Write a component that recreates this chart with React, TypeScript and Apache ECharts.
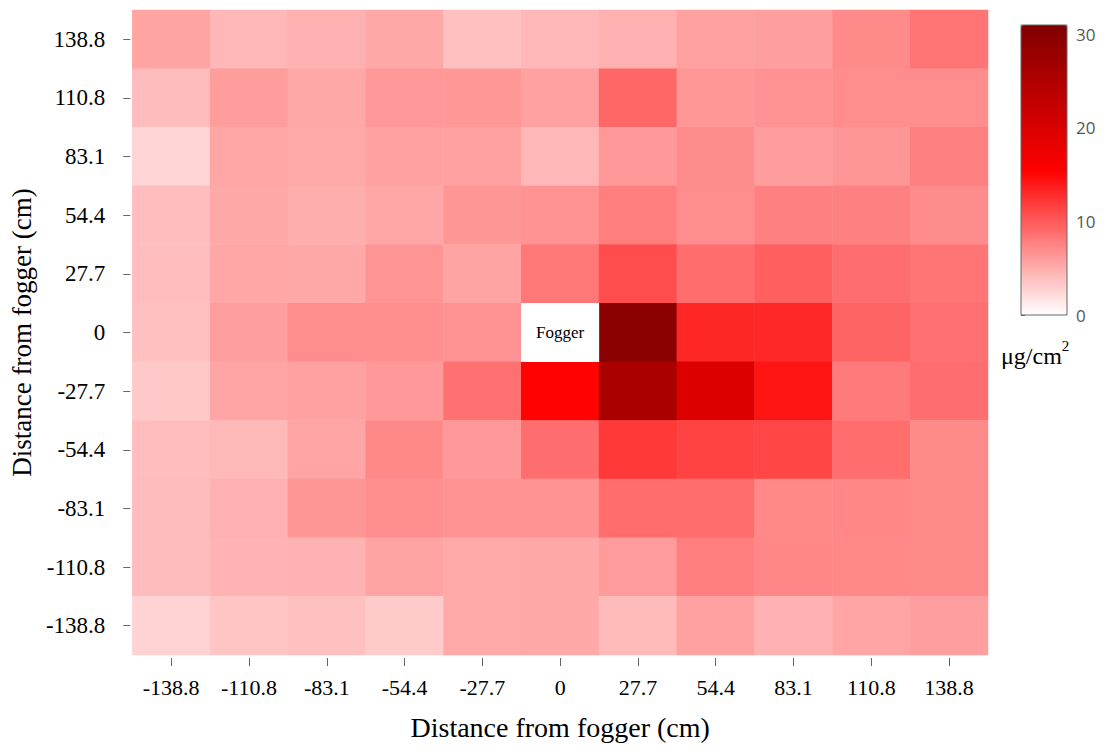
import React, { useEffect, useRef } from "react";
import * as echarts from "echarts";

// Sampling positions (cm) along each axis, left-to-right / bottom-to-top
const xLabels = ["-138.8", "-110.8", "-83.1", "-54.4", "-27.7", "0", "27.7", "54.4", "83.1", "110.8", "138.8"];
const yLabels = ["-138.8", "-110.8", "-83.1", "-54.4", "-27.7", "0", "27.7", "54.4", "83.1", "110.8", "138.8"];

// Deposition (µg/cm²) per row, listed from the top row (y = 138.8) down.
// The fogger itself sits at (0, 0) and has no reading.
const rowY138_8 = [5.6, 4.4, 4.8, 5.3, 3.8, 4.4, 4.8, 5.7, 5.9, 7.1, 8.4];
const rowY110_8 = [4.1, 6.0, 5.3, 6.2, 6.3, 5.7, 9.3, 6.3, 6.6, 6.9, 6.9];
const rowY83_1 = [2.6, 5.4, 5.2, 5.7, 5.7, 4.4, 6.2, 7.0, 6.0, 6.4, 7.7];
const rowY54_4 = [4.0, 5.3, 4.9, 5.4, 6.4, 6.6, 7.8, 6.9, 7.7, 7.7, 7.0];
const rowY27_7 = [4.0, 5.4, 5.3, 6.5, 5.6, 8.2, 10.8, 8.9, 9.7, 8.8, 8.4];
const rowY0 = [3.8, 5.9, 6.9, 6.8, 6.6, null, 29.7, 13.2, 13.1, 9.4, 8.7];
const rowYm27_7 = [3.3, 5.5, 5.7, 6.2, 8.7, 15.3, 25.9, 19.6, 14.3, 8.0, 8.8];
const rowYm54_4 = [4.0, 4.3, 5.5, 7.2, 6.2, 8.8, 12.1, 11.4, 11.3, 8.9, 7.1];
const rowYm83_1 = [4.1, 4.8, 6.4, 6.8, 6.6, 6.6, 8.9, 8.9, 7.2, 7.3, 7.1];
const rowYm110_8 = [4.1, 4.6, 4.7, 5.6, 5.2, 5.3, 6.1, 7.8, 7.3, 7.2, 7.1];
const rowYm138_8 = [2.7, 3.5, 3.8, 3.2, 5.2, 5.3, 4.2, 5.7, 4.7, 5.5, 5.9];

const rowsTopDown = [
  rowY138_8, rowY110_8, rowY83_1, rowY54_4, rowY27_7, rowY0,
  rowYm27_7, rowYm54_4, rowYm83_1, rowYm110_8, rowYm138_8,
];

// Colour bar range and its tick values
const scaleMin = 0;
const scaleMax = 31;
const scaleTicks = [0, 10, 20, 30];

const SERIF = "Liberation Serif, Times New Roman, serif";
const SANS = "Open Sans, Noto Sans, sans-serif";

export default function App() {
  const ref = useRef<HTMLDivElement>(null);

  useEffect(() => {
    if (!ref.current) return;
    const chart = echarts.init(ref.current, undefined, { renderer: "svg" });

    const cells: [number, number, number][] = [];
    rowsTopDown.forEach((row, r) => {
      const yi = yLabels.length - 1 - r;
      row.forEach((v, c) => {
        if (v !== null) cells.push([c, yi, v as number]);
      });
    });

    chart.setOption({
      animation: false,
      backgroundColor: "#ffffff",
      // unit of the colour scale, placed under the colour bar
      title: {
        text: "{b|μg/cm}{s|2}",
        left: 1001,
        top: 338,
        padding: 0,
        textStyle: {
          color: "#000",
          fontFamily: SERIF,
          fontSize: 24,
          fontWeight: "normal",
          rich: {
            b: { color: "#000", fontFamily: SERIF, fontSize: 24, fontWeight: "normal", lineHeight: 30, verticalAlign: "bottom" },
            s: { color: "#000", fontFamily: SERIF, fontSize: 15, fontWeight: "normal", lineHeight: 30, verticalAlign: "top" },
          },
        },
      },
      grid: [
        { left: 130, top: 10, width: 858, height: 645 },
        {
          left: 1021, top: 25, width: 46, height: 290,
          show: true, borderColor: "#666", borderWidth: 1,
          backgroundColor: "transparent", z: 10,
        },
      ],
      xAxis: [
        {
          type: "category",
          gridIndex: 0,
          data: xLabels,
          offset: 3,
          axisLine: { show: false },
          axisTick: { show: true, length: 8, alignWithLabel: true, lineStyle: { color: "#666" } },
          axisLabel: { color: "#000", fontFamily: SERIF, fontSize: 22, margin: 18 },
          splitLine: { show: false },
          name: "Distance from fogger (cm)",
          nameLocation: "middle",
          nameGap: 55,
          nameTextStyle: { color: "#000", fontFamily: SERIF, fontSize: 28 },
        },
        {
          type: "value",
          gridIndex: 1,
          show: false,
        },
      ],
      yAxis: [
        {
          type: "category",
          gridIndex: 0,
          data: yLabels,
          offset: 2,
          axisLine: { show: false },
          axisTick: { show: true, length: 7, alignWithLabel: true, lineStyle: { color: "#666" } },
          axisLabel: { color: "#000", fontFamily: SERIF, fontSize: 23, margin: 25 },
          splitLine: { show: false },
          name: "Distance from fogger (cm)",
          nameLocation: "middle",
          nameGap: 88,
          nameRotate: 90,
          nameTextStyle: { color: "#000", fontFamily: SERIF, fontSize: 27 },
        },
        {
          type: "value",
          gridIndex: 1,
          position: "right",
          min: scaleMin,
          max: scaleMax,
          axisLine: { show: false },
          splitLine: { show: false },
          axisTick: { show: true, length: 4, customValues: scaleTicks, lineStyle: { color: "#666" } },
          axisLabel: { color: "#555", fontFamily: SANS, fontSize: 17, margin: 9, customValues: scaleTicks },
        },
      ],
      visualMap: {
        type: "continuous",
        seriesIndex: 0,
        dimension: 2,
        min: scaleMin,
        max: scaleMax,
        calculable: false,
        hoverLink: false,
        orient: "vertical",
        left: 1021,
        top: 25,
        padding: 0,
        itemWidth: 46,
        itemHeight: 290,
        inRange: { color: ["#ffffff", "#ff0000", "#800000"] },
      },
      series: [
        {
          type: "heatmap",
          xAxisIndex: 0,
          yAxisIndex: 0,
          data: cells,
          itemStyle: { borderWidth: 0 },
          emphasis: { disabled: true },
          markPoint: {
            symbol: "rect",
            symbolSize: [78, 59],
            itemStyle: { color: "#ffffff" },
            label: {
              show: true,
              position: "inside",
              formatter: "Fogger",
              color: "#000",
              fontFamily: SERIF,
              fontSize: 17,
            },
            data: [{ name: "Fogger", coord: ["0", "0"] }],
          },
        },
      ],
    });

    return () => chart.dispose();
  }, []);

  return (
    <div
      ref={ref}
      style={{ position: "fixed", left: 0, top: 0, width: 1107, height: 755 }}
    />
  );
}
